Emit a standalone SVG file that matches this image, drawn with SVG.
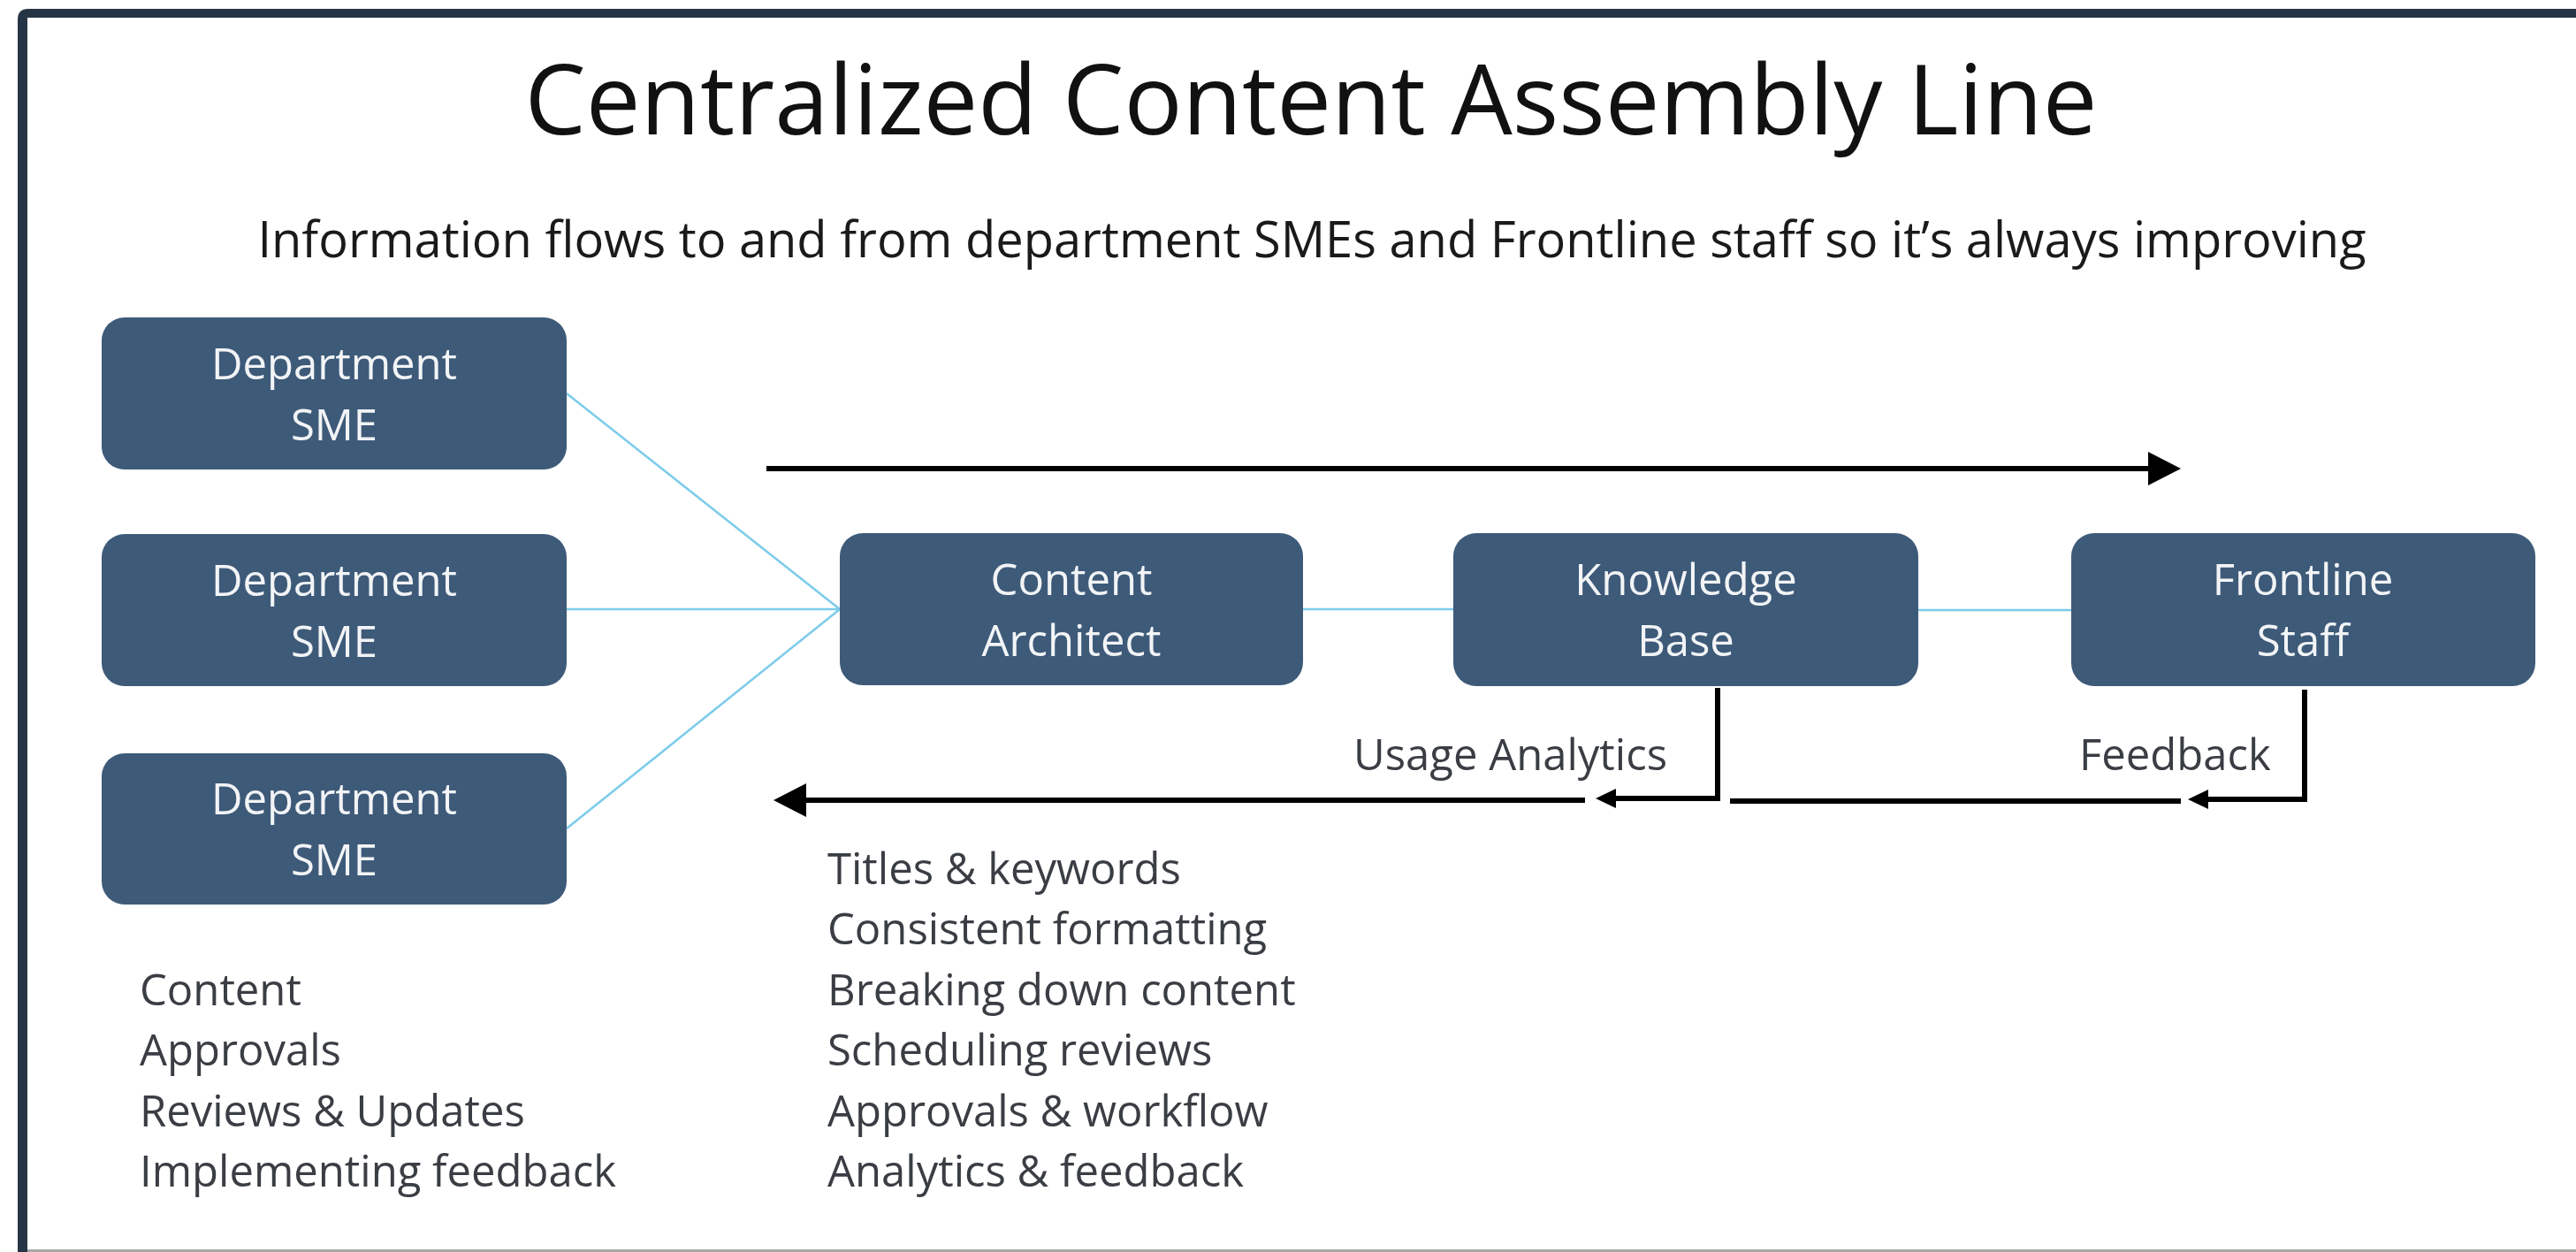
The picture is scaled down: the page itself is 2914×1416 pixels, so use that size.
<svg xmlns="http://www.w3.org/2000/svg" width="2914" height="1416" viewBox="0 0 2914 1416">
  <style>
    .title { font-family: "Open Sans", "Liberation Sans", sans-serif; font-size: 110px; fill: #111111; text-anchor: middle; }
    .subtitle { font-family: "Open Sans", "Liberation Sans", sans-serif; font-size: 56px; fill: #1a1a1a; text-anchor: middle; }
    .box { fill: #3e5a79; }
    .boxtext { font-family: "Open Sans", "Liberation Sans", sans-serif; font-size: 49px; fill: #f2f4f6; text-anchor: middle; }
    .label { font-family: "Open Sans", "Liberation Sans", sans-serif; font-size: 49px; fill: #3a3e44; }
    .link { stroke: #7ccbea; stroke-width: 2.5; fill: none; }
    .flow { stroke: #000000; stroke-width: 6; fill: none; stroke-linejoin: miter; stroke-linecap: butt; }
  </style>
  <defs>
    <marker id="bigHead" markerUnits="userSpaceOnUse" markerWidth="37" markerHeight="38" refX="0" refY="19" orient="auto">
      <path d="M0,0 L37,19 L0,38 Z" fill="#000000"/>
    </marker>
    <marker id="smallHead" markerUnits="userSpaceOnUse" markerWidth="23" markerHeight="22" refX="0" refY="11" orient="auto">
      <path d="M0,0 L23,11 L0,22 Z" fill="#000000"/>
    </marker>
  </defs>

  <rect x="0" y="0" width="2914" height="1416" fill="#ffffff"/>

  <!-- slide frame: dark top and left edges, thin grey base line -->
  <path d="M20,1416 V22 Q20,10 32,10 H2914 V20 H31 V1416 Z" fill="#263545"/>
  <rect x="31" y="1413" width="2883" height="3" fill="#a8a8a8"/>

  <!-- headings -->
  <text class="title" x="1483" y="152">Centralized Content Assembly Line</text>
  <text class="subtitle" x="1484" y="291">Information flows to and from department SMEs and Frontline staff so it’s always improving</text>

  <!-- connectors -->
  <g id="connectors">
    <line class="link" x1="641" y1="445" x2="950" y2="689"/>
    <line class="link" x1="641" y1="689" x2="950" y2="689"/>
    <line class="link" x1="641" y1="937" x2="950" y2="689"/>
    <line class="link" x1="1474" y1="689" x2="1644" y2="689"/>
    <line class="link" x1="2170" y1="690" x2="2343" y2="690"/>

    <!-- forward flow -->
    <path class="flow" d="M867,530 H2430" marker-end="url(#bigHead)"/>

    <!-- return flow -->
    <path class="flow" d="M1793,905 H912" marker-end="url(#bigHead)"/>
    <path class="flow" d="M1943,778 V903 H1828" marker-end="url(#smallHead)"/>
    <path class="flow" d="M2467,906 H1957"/>
    <path class="flow" d="M2607,780 V904 H2498" marker-end="url(#smallHead)"/>
  </g>

  <!-- nodes -->
  <g id="sme-1">
    <rect class="box" x="115" y="359" width="526" height="172" rx="26"/>
    <text class="boxtext" x="378" y="429">Department</text>
    <text class="boxtext" x="378" y="498">SME</text>
  </g>
  <g id="sme-2">
    <rect class="box" x="115" y="604" width="526" height="172" rx="26"/>
    <text class="boxtext" x="378" y="674">Department</text>
    <text class="boxtext" x="378" y="743">SME</text>
  </g>
  <g id="sme-3">
    <rect class="box" x="115" y="852" width="526" height="171" rx="26"/>
    <text class="boxtext" x="378" y="921">Department</text>
    <text class="boxtext" x="378" y="990">SME</text>
  </g>
  <g id="content-architect">
    <rect class="box" x="950" y="603" width="524" height="172" rx="26"/>
    <text class="boxtext" x="1212" y="673">Content</text>
    <text class="boxtext" x="1212" y="742">Architect</text>
  </g>
  <g id="knowledge-base">
    <rect class="box" x="1644" y="603" width="526" height="173" rx="26"/>
    <text class="boxtext" x="1907" y="673">Knowledge</text>
    <text class="boxtext" x="1907" y="742">Base</text>
  </g>
  <g id="frontline-staff">
    <rect class="box" x="2343" y="603" width="525" height="173" rx="26"/>
    <text class="boxtext" x="2605" y="673">Frontline</text>
    <text class="boxtext" x="2605" y="742">Staff</text>
  </g>

  <!-- flow labels -->
  <text class="label" x="1531" y="871">Usage Analytics</text>
  <text class="label" x="2352" y="871">Feedback</text>

  <!-- SME responsibilities -->
  <g id="sme-duties">
    <text class="label" x="158" y="1137">Content</text>
    <text class="label" x="158" y="1205">Approvals</text>
    <text class="label" x="158" y="1274">Reviews &amp; Updates</text>
    <text class="label" x="158" y="1342">Implementing feedback</text>
  </g>

  <!-- content architect responsibilities -->
  <g id="architect-duties">
    <text class="label" x="936" y="1000">Titles &amp; keywords</text>
    <text class="label" x="936" y="1068">Consistent formatting</text>
    <text class="label" x="936" y="1137">Breaking down content</text>
    <text class="label" x="936" y="1205">Scheduling reviews</text>
    <text class="label" x="936" y="1274">Approvals &amp; workflow</text>
    <text class="label" x="936" y="1342">Analytics &amp; feedback</text>
  </g>
</svg>
